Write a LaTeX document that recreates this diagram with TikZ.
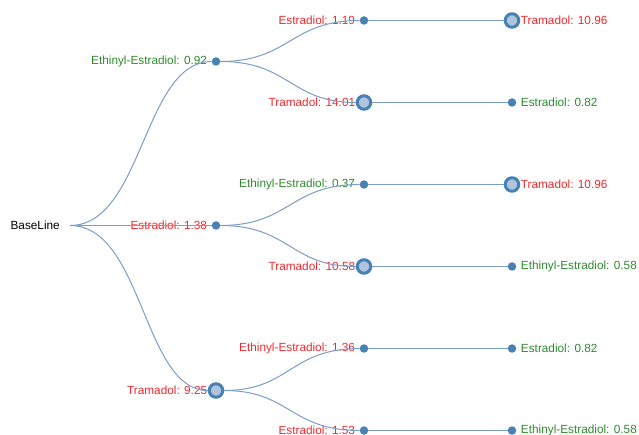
\documentclass[tikz,border=0pt]{standalone}
\usepackage{fontspec}
\setmainfont{Liberation Sans}
\definecolor{steel}{HTML}{4682B4}
\definecolor{paleblue}{HTML}{B0C4DE}
\definecolor{linkblue}{HTML}{7B9DC8}
\definecolor{drugred}{HTML}{EE2A2F}
\definecolor{druggreen}{HTML}{2E8B2E}

\begin{document}
\begin{tikzpicture}[x=1pt, y=-1pt,
  font=\fontsize{11.8}{14}\selectfont,
  every label/.style={inner sep=0pt},
  redtag/.style={text=drugred, label distance=4.3pt},
  greentag/.style={text=druggreen, label distance=4.3pt},
  ringtag/.style={text=drugred, label distance=0.4pt},
  dot/.style={circle, fill=steel, inner sep=0pt, minimum size=8.5pt},
  ring/.style={circle, draw=steel, line width=3pt, fill=paleblue, inner sep=0pt, minimum size=13.5pt},
  link/.style={draw=linkblue, line width=1pt,
    to path={.. controls ([xshift=#1]\tikztostart) and ([xshift=-#1]\tikztotarget) .. (\tikztotarget)}},
  flat/.style={draw=linkblue, line width=1pt}]
  \useasboundingbox (0,-0.5) rectangle (639,434.5);
  \clip (0,-0.5) rectangle (639,434.5);

  \coordinate[label={[black, label distance=10pt]left:BaseLine}] (BASE) at (70,225);

  \node[dot, label={[greentag]left:{Ethinyl-Estradiol: 0.92}}] (EE) at (216,61) {};
  \node[dot, label={[redtag]left:{Estradiol: 1.38}}] (ES) at (216,225) {};
  \node[ring, label={[ringtag]left:{Tramadol: 9.25}}] (TR) at (216,390) {};

  \node[dot, label={[redtag]left:{Estradiol: 1.19}}] (EEES) at (364,20) {};
  \node[ring, label={[ringtag]left:{Tramadol: 14.01}}] (EETR) at (364,102) {};
  \node[dot, label={[greentag]left:{Ethinyl-Estradiol: 0.37}}] (ESEE) at (364,184) {};
  \node[ring, label={[ringtag]left:{Tramadol: 10.58}}] (ESTR) at (364,266) {};
  \node[dot, label={[redtag]left:{Ethinyl-Estradiol: 1.36}}] (TREE) at (364,348) {};
  \node[dot, label={[redtag]left:{Estradiol: 1.53}}] (TRES) at (364,430) {};

  \node[ring, label={[ringtag]right:{Tramadol: 10.96}}] (EEESTR) at (512,20) {};
  \node[dot, label={[greentag]right:{Estradiol: 0.82}}] (EETRES) at (512,102) {};
  \node[ring, label={[ringtag]right:{Tramadol: 10.96}}] (ESEETR) at (512,184) {};
  \node[dot, label={[greentag]right:{Ethinyl-Estradiol: 0.58}}] (ESTREE) at (512,266) {};
  \node[dot, label={[greentag]right:{Estradiol: 0.82}}] (TREEES) at (512,348) {};
  \node[dot, label={[greentag]right:{Ethinyl-Estradiol: 0.58}}] (TRESEE) at (512,430) {};

  \draw[link=73] (BASE) to (EE);
  \draw[link=73] (BASE) to (ES);
  \draw[link=73] (BASE) to (TR);

  \draw[link=74] (EE) to (EEES);
  \draw[link=74] (EE) to (EETR);
  \draw[link=74] (ES) to (ESEE);
  \draw[link=74] (ES) to (ESTR);
  \draw[link=74] (TR) to (TREE);
  \draw[link=74] (TR) to (TRES);

  \draw[flat] (EEES) -- (EEESTR);
  \draw[flat] (EETR) -- (EETRES);
  \draw[flat] (ESEE) -- (ESEETR);
  \draw[flat] (ESTR) -- (ESTREE);
  \draw[flat] (TREE) -- (TREEES);
  \draw[flat] (TRES) -- (TRESEE);
\end{tikzpicture}
\end{document}
